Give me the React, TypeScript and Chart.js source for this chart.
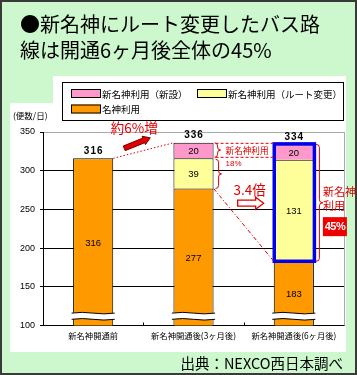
import React, { useEffect, useRef } from "react";
import { Chart, registerables } from "chart.js";
Chart.register(...registerables);

const categories = ["新名神開通前", "新名神開通後(3ヶ月後)", "新名神開通後(6ヶ月後)"];
const meishinUse = [316, 277, 183];
const routeChangeUse: (number | null)[] = [null, 39, 131];
const newBuildUse: (number | null)[] = [null, 20, 20];
const seriesLabels = ["名神利用", "新名神利用（ルート変更）", "新名神利用（新設）"];
const seriesColors = ["#ff9900", "#ffff99", "#ff99cc"];
const yTickValues = [100, 150, 200, 250, 300, 350];
const titleLines = ["●新名神にルート変更したバス路", "線は開通6ヶ月後全体の45%"];
const unitLabel = "(便数/日)";
const sourceNote = "出典：NEXCO西日本調べ";
const growthNote = "約6%増";
const newShareNote = ["新名神利用", "18%"];
const ratioNote = "3.4倍";
const shareNote = ["新名神", "利用"];
const shareValue = "45%";

const RED = "#e00000";
const JP = '"Noto Sans CJK JP", sans-serif';
const NUM = '"Liberation Sans", Arial, sans-serif';

function brace(ctx: CanvasRenderingContext2D, x: number, y1: number, y2: number, w: number) {
  const ym = (y1 + y2) / 2;
  const r = Math.min(3, (ym - y1) / 2);
  const xm = x + w / 2;
  ctx.beginPath();
  ctx.moveTo(x, y1);
  ctx.quadraticCurveTo(xm, y1, xm, y1 + r);
  ctx.lineTo(xm, ym - r);
  ctx.quadraticCurveTo(xm, ym, x + w, ym);
  ctx.quadraticCurveTo(xm, ym, xm, ym + r);
  ctx.lineTo(xm, y2 - r);
  ctx.quadraticCurveTo(xm, y2, x, y2);
  ctx.stroke();
}

function arrowPath(ctx: CanvasRenderingContext2D, x1: number, y1: number, x2: number, y2: number, shaft: number, head: number, headLen: number) {
  const ang = Math.atan2(y2 - y1, x2 - x1);
  const len = Math.hypot(x2 - x1, y2 - y1);
  ctx.save();
  ctx.translate(x1, y1);
  ctx.rotate(ang);
  ctx.beginPath();
  ctx.moveTo(0, -shaft / 2);
  ctx.lineTo(len - headLen, -shaft / 2);
  ctx.lineTo(len - headLen, -head / 2);
  ctx.lineTo(len, 0);
  ctx.lineTo(len - headLen, head / 2);
  ctx.lineTo(len - headLen, shaft / 2);
  ctx.lineTo(0, shaft / 2);
  ctx.closePath();
  ctx.restore();
}

const decorPlugin = {
  id: "decor",
  beforeDraw(chart: any) {
    const ctx: CanvasRenderingContext2D = chart.ctx;
    ctx.save();
    ctx.fillStyle = "#ffffff";
    ctx.beginPath();
    ctx.moveTo(53, 76);
    ctx.lineTo(346, 76);
    ctx.lineTo(346, 352);
    ctx.lineTo(10, 352);
    ctx.lineTo(10, 103);
    ctx.lineTo(53, 103);
    ctx.closePath();
    ctx.fill();

    // legend box
    ctx.strokeStyle = "#000";
    ctx.lineWidth = 1;
    ctx.strokeRect(62.5, 82.5, 281, 38);
    const items = [
      { ds: 2, x: 71, y: 89 },
      { ds: 1, x: 197, y: 89 },
      { ds: 0, x: 71, y: 104.5 },
    ];
    ctx.font = `9.5px ${JP}`;
    ctx.textBaseline = "middle";
    ctx.textAlign = "left";
    items.forEach((it) => {
      const d = chart.data.datasets[it.ds];
      ctx.fillStyle = d.backgroundColor;
      ctx.fillRect(it.x, it.y, 30, 9);
      ctx.strokeRect(it.x + 0.5, it.y + 0.5, 29, 8);
      ctx.fillStyle = "#000";
      ctx.fillText(d.label, it.x + 31, it.y + 5);
    });

    // unit label
    ctx.font = `8.5px ${JP}`;
    ctx.fillText(unitLabel, 13, 116);
    ctx.restore();
  },
  afterDatasetsDraw(chart: any) {
    const ctx: CanvasRenderingContext2D = chart.ctx;
    const ys = chart.scales.y;
    const area = chart.chartArea;
    const bar = (ds: number, j: number) => chart.getDatasetMeta(ds).data[j].getProps(["x", "y", "base", "width"], true);
    ctx.save();

    // right plot border
    ctx.strokeStyle = "#aaa";
    ctx.lineWidth = 1;
    ctx.beginPath();
    ctx.moveTo(area.right + 0.5, area.top);
    ctx.lineTo(area.right + 0.5, area.bottom);
    ctx.stroke();

    // x tick marks between categories
    ctx.strokeStyle = "#000";
    const xs = chart.scales.x;
    for (let j = 1; j < categories.length; j++) {
      const xm = Math.round((xs.getPixelForValue(j - 1) + xs.getPixelForValue(j)) / 2) + 0.5;
      ctx.beginPath();
      ctx.moveTo(xm, area.bottom);
      ctx.lineTo(xm, area.bottom - 3);
      ctx.stroke();
    }

    // axis-break bands
    categories.forEach((_, j) => {
      const b = bar(0, j);
      const x0 = b.x - b.width / 2 - 1.5;
      const x1 = b.x + b.width / 2 + 1.5;
      const yt = ys.getPixelForValue(116);
      const yb = ys.getPixelForValue(108);
      const xm = (x0 + x1) / 2;
      ctx.beginPath();
      ctx.moveTo(x0, yt);
      ctx.quadraticCurveTo((x0 + xm) / 2, yt - 1.5, xm, yt);
      ctx.quadraticCurveTo((xm + x1) / 2, yt + 1.5, x1, yt);
      ctx.lineTo(x1, yb);
      ctx.quadraticCurveTo((xm + x1) / 2, yb + 1.5, xm, yb);
      ctx.quadraticCurveTo((x0 + xm) / 2, yb - 1.5, x0, yb);
      ctx.closePath();
      ctx.fillStyle = "#fff";
      ctx.fill();
      ctx.strokeStyle = "#000";
      ctx.lineWidth = 1;
      ctx.beginPath();
      ctx.moveTo(x0, yt);
      ctx.quadraticCurveTo((x0 + xm) / 2, yt - 1.5, xm, yt);
      ctx.quadraticCurveTo((xm + x1) / 2, yt + 1.5, x1, yt);
      ctx.stroke();
      ctx.beginPath();
      ctx.moveTo(x1, yb);
      ctx.quadraticCurveTo((xm + x1) / 2, yb + 1.5, xm, yb);
      ctx.quadraticCurveTo((x0 + xm) / 2, yb - 1.5, x0, yb);
      ctx.stroke();
    });

    // blue highlight around new-route segments of last bar
    {
      const last = categories.length - 1;
      const bt = bar(2, last);
      const bb = bar(1, last);
      ctx.strokeStyle = "#0000ee";
      ctx.lineWidth = 3.5;
      ctx.strokeRect(bt.x - bt.width / 2 + 0.5, bt.y - 0.5, bt.width, bb.base - bt.y + 0.5);
    }

    // value labels
    ctx.fillStyle = "#000";
    ctx.textAlign = "center";
    ctx.textBaseline = "middle";
    ctx.font = `9.5px ${NUM}`;
    chart.data.datasets.forEach((d: any, i: number) => {
      d.data.forEach((v: number | null, j: number) => {
        if (v == null) return;
        const b = bar(i, j);
        const bot = Math.min(b.base, area.bottom);
        ctx.fillText(String(v), b.x, (b.y + bot) / 2 + 1);
      });
    });

    // totals
    ctx.font = `bold 10px ${NUM}`;
    (ctx as any).letterSpacing = "1px";
    categories.forEach((_, j) => {
      const total = chart.data.datasets.reduce((s: number, d: any) => s + (d.data[j] ?? 0), 0);
      const b = bar(0, j);
      ctx.fillText(String(total), b.x + 0.5, ys.getPixelForValue(total) - 7.5);
    });
    (ctx as any).letterSpacing = "0px";
    ctx.restore();
  },
  afterDraw(chart: any) {
    const ctx: CanvasRenderingContext2D = chart.ctx;
    const ys = chart.scales.y;
    const area = chart.chartArea;
    const bar = (ds: number, j: number) => chart.getDatasetMeta(ds).data[j].getProps(["x", "y", "base", "width"], true);
    const right = (j: number) => { const b = bar(0, j); return b.x + b.width / 2; };
    const left = (j: number) => { const b = bar(0, j); return b.x - b.width / 2; };
    const total = (j: number) => chart.data.datasets.reduce((s: number, d: any) => s + (d.data[j] ?? 0), 0);
    const Y = (v: number) => ys.getPixelForValue(v);
    ctx.save();
    ctx.strokeStyle = RED;
    ctx.fillStyle = RED;
    ctx.lineWidth = 1;

    // dotted growth line
    ctx.setLineDash([1.5, 2]);
    ctx.beginPath();
    ctx.moveTo(right(0), Y(total(0)));
    ctx.lineTo(left(1), Y(total(1)));
    ctx.stroke();

    // dash-dot line
    ctx.setLineDash([4, 2, 1, 2]);
    ctx.beginPath();
    ctx.moveTo(right(1), Y(meishinUse[1]));
    ctx.lineTo(left(2), Y(meishinUse[2]));
    ctx.stroke();

    // dashed box lines for new-build share
    ctx.setLineDash([3, 2]);
    const pTop = Y(total(1));
    const pBot = Y(meishinUse[1] + (routeChangeUse[1] ?? 0));
    ctx.beginPath();
    ctx.moveTo(right(1) + 2, pTop + 0.5);
    ctx.lineTo(right(1) + 60, pTop + 0.5);
    ctx.moveTo(right(1) + 2, pBot - 1);
    ctx.lineTo(right(1) + 60, pBot - 1);
    ctx.stroke();
    ctx.setLineDash([]);

    // braces
    brace(ctx, right(1) + 1, pTop, pBot - 1, 6);
    brace(ctx, right(1) + 2, pBot + 1, Y(meishinUse[1]), 6);
    brace(ctx, right(2) + 2, Y(total(2)), Y(meishinUse[2]), 7);

    // big red arrow
    arrowPath(ctx, right(0) + 11, Y(total(0)) - 10, right(0) + 37, Y(total(0)) - 20.5, 5, 9, 7);
    ctx.fillStyle = RED;
    ctx.fill();
    ctx.strokeStyle = "#7a0000";
    ctx.stroke();

    // growth text
    ctx.fillStyle = RED;
    ctx.textAlign = "center";
    ctx.textBaseline = "middle";
    ctx.font = `13.5px ${JP}`;
    ctx.fillText(growthNote, right(0) + 21, area.top - 4);

    // new-build share note
    ctx.textAlign = "left";
    ctx.font = `8.6px ${JP}`;
    ctx.fillText(newShareNote[0], right(1) + 12, (pTop + pBot) / 2);
    ctx.font = `8px ${NUM}`;
    ctx.fillText(newShareNote[1], right(1) + 12, pBot + 5);

    // ratio note + hollow arrow
    const mid12 = (right(1) + left(2)) / 2;
    ctx.textAlign = "center";
    ctx.font = `13.5px ${JP}`;
    ctx.fillText(ratioNote, mid12 + 6, Y(275));
    ctx.strokeStyle = RED;
    ctx.lineWidth = 1.3;
    arrowPath(ctx, mid12 - 6, Y(258), mid12 + 20, Y(258), 6, 12, 8);
    ctx.fillStyle = "#fff";
    ctx.fill();
    ctx.stroke();

    // share note
    ctx.fillStyle = RED;
    ctx.textAlign = "left";
    ctx.font = `11px ${JP}`;
    ctx.fillText(shareNote[0], right(2) + 9, Y(273));
    ctx.fillText(shareNote[1], right(2) + 9, Y(255));
    // 45% box
    const bx = right(2) + 9;
    const by = Y(240);
    ctx.fillStyle = "#ee0000";
    ctx.fillRect(bx, by, 24, 19);
    ctx.fillStyle = "#fff";
    ctx.textAlign = "center";
    ctx.font = `bold 11px ${NUM}`;
    (ctx as any).letterSpacing = "-0.5px";
    ctx.fillText(shareValue, bx + 12, by + 10);
    (ctx as any).letterSpacing = "0px";
    ctx.restore();
  },
};

export default function App() {
  const ref = useRef<HTMLCanvasElement>(null);
  useEffect(() => {
    if (!ref.current) return;
    const chart = new Chart(ref.current, {
      type: "bar",
      data: {
        labels: categories,
        datasets: [
          { label: seriesLabels[0], data: meishinUse, backgroundColor: seriesColors[0], borderColor: "#000", borderWidth: 1 },
          { label: seriesLabels[1], data: routeChangeUse, backgroundColor: seriesColors[1], borderColor: "#000", borderWidth: 1 },
          { label: seriesLabels[2], data: newBuildUse, backgroundColor: seriesColors[2], borderColor: "#000", borderWidth: 1 },
        ],
      },
      options: {
        responsive: false,
        animation: false,
        devicePixelRatio: 1,
        layout: { padding: { top: 132, right: 13, left: 0, bottom: 0 } },
        plugins: { legend: { display: false }, tooltip: { enabled: false } },
        datasets: { bar: { barPercentage: 0.4, categoryPercentage: 1 } },
        scales: {
          x: {
            stacked: true,
            grid: { display: false, drawTicks: false },
            border: { color: "#000" },
            ticks: { font: { size: 8.3, family: JP }, color: "#000", padding: 5, maxRotation: 0, autoSkip: false },
            afterFit: (s: any) => { s.height = 49.5; },
          },
          y: {
            stacked: true,
            min: 100,
            max: 350,
            afterBuildTicks: (s: any) => { s.ticks = yTickValues.map((v) => ({ value: v })); },
            grid: {
              color: (c: any) => (c.tick && c.tick.value === 350 ? "#aaa" : "#000"),
              tickLength: 3,
              tickColor: "#000",
            },
            border: { color: "#000" },
            ticks: { font: { size: 9, family: NUM }, color: "#000", padding: 5 },
            afterFit: (s: any) => { s.width = 43; },
          },
        },
      } as any,
      plugins: [decorPlugin],
    });
    return () => chart.destroy();
  }, []);

  return (
    <div style={{ position: "fixed", left: 0, top: 0, width: 357, height: 375, background: "#cdf7cd", overflow: "hidden" }}>
      <canvas ref={ref} width={357} height={375} style={{ position: "absolute", left: 0, top: 0, display: "block" }} />
      <div style={{ position: "absolute", left: 20, top: 11, fontFamily: JP, fontSize: 20, lineHeight: "26px", color: "#000", whiteSpace: "pre" }}>
        {titleLines.join("\n")}
      </div>
      <div style={{ position: "absolute", right: 14, top: 355, fontFamily: JP, fontSize: 14.5, lineHeight: "16px", color: "#000", whiteSpace: "pre" }}>
        {sourceNote}
      </div>
      <div style={{ position: "absolute", left: 0, top: 0, width: 357, height: 375, boxSizing: "border-box", border: "2px solid #3a3a3a", pointerEvents: "none" }} />
    </div>
  );
}
